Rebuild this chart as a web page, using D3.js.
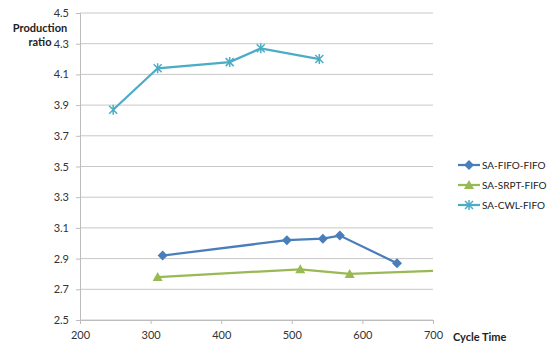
<!DOCTYPE html>
<html>
<head>
<meta charset="utf-8">
<script src="https://cdn.jsdelivr.net/npm/d3@7"></script>
<style>
  body { margin: 0; background: #fff; }
  text { font-family: Lato, "Open Sans", sans-serif; }
</style>
</head>
<body>
<svg id="chart" width="550" height="350"></svg>
<script>
// series names and values
var seriesNames = ["SA-FIFO-FIFO", "SA-SRPT-FIFO", "SA-CWL-FIFO"];
var fifoX = [317, 493, 544, 568, 649];
var fifoY = [2.92, 3.02, 3.03, 3.05, 2.87];
var srptX = [310, 512, 582, 760];
var srptY = [2.78, 2.83, 2.80, 2.83];
var cwlX = [247, 310, 412, 456, 539];
var cwlY = [3.87, 4.14, 4.18, 4.27, 4.20];
var xTicks = [200, 300, 400, 500, 600, 700];
var yTicks = [2.5, 2.7, 2.9, 3.1, 3.3, 3.5, 3.7, 3.9, 4.1, 4.3, 4.5];

var colors = ["#4a7ebb", "#98b954", "#4bacc6"];
var shapes = ["diamond", "triangle", "star"];

var svg = d3.select("#chart");

var x = d3.scaleLinear().domain([200, 700]).range([80, 433]);
var y = d3.scaleLinear().domain([2.5, 4.5]).range([320, 13]);

// grid lines
svg.append("g")
  .selectAll("line")
  .data(yTicks)
  .enter()
  .append("line")
  .attr("x1", 80)
  .attr("x2", 433)
  .attr("y1", d => y(d))
  .attr("y2", d => y(d))
  .attr("stroke", "#c8c8c8")
  .attr("stroke-width", 1);

// y axis
var yAxis = svg.append("g")
  .attr("transform", "translate(80,0)")
  .call(d3.axisLeft(y).tickValues(yTicks).tickFormat(d3.format(".1f")).tickSize(4));
yAxis.select(".domain").attr("stroke", "#bdbdbd");
yAxis.selectAll(".tick line").attr("stroke", "#bdbdbd");
yAxis.selectAll("text").attr("fill", "#333").style("font-size", "11px").attr("dx", "-4");

// x axis
var xAxis = svg.append("g")
  .attr("transform", "translate(0,320)")
  .call(d3.axisBottom(x).tickValues(xTicks).tickSize(4));
xAxis.select(".domain").attr("stroke", "#bdbdbd");
xAxis.selectAll(".tick line").attr("stroke", "#bdbdbd");
xAxis.selectAll("text").attr("fill", "#333").style("font-size", "11px").attr("dy", "1.1em");

// axis titles
svg.append("text").attr("x", 40).attr("y", 32).attr("text-anchor", "middle")
  .style("font-size", "11px").style("font-weight", "bold").attr("fill", "#222").text("Production");
svg.append("text").attr("x", 40).attr("y", 46).attr("text-anchor", "middle")
  .style("font-size", "11px").style("font-weight", "bold").attr("fill", "#222").text("ratio");
svg.append("text").attr("x", 453).attr("y", 341)
  .style("font-size", "11px").style("font-weight", "bold").attr("fill", "#222").text("Cycle Time");

svg.append("clipPath").attr("id", "plot-clip")
  .append("rect").attr("x", 70).attr("y", 0).attr("width", 363).attr("height", 335);

var series = [
  fifoX.map((v, i) => ({ x: v, y: fifoY[i] })),
  srptX.map((v, i) => ({ x: v, y: srptY[i] })),
  cwlX.map((v, i) => ({ x: v, y: cwlY[i] }))
];

var line = d3.line().x(d => x(d.x)).y(d => y(d.y));

function drawMarker(g, shape, color, cx, cy) {
  if (shape === "diamond") {
    g.append("path")
      .attr("d", `M${cx},${cy - 5}L${cx + 5},${cy}L${cx},${cy + 5}L${cx - 5},${cy}Z`)
      .attr("fill", color);
  } else if (shape === "triangle") {
    g.append("path")
      .attr("d", `M${cx},${cy - 5}L${cx + 5},${cy + 4}L${cx - 5},${cy + 4}Z`)
      .attr("fill", color);
  } else {
    g.append("path")
      .attr("d", `M${cx - 4},${cy - 4}L${cx + 4},${cy + 4}M${cx - 4},${cy + 4}L${cx + 4},${cy - 4}M${cx},${cy - 5}L${cx},${cy + 5}`)
      .attr("stroke", color).attr("stroke-width", 1.5).attr("fill", "none");
  }
}

var plot = svg.append("g").attr("clip-path", "url(#plot-clip)");

series.forEach((pts, i) => {
  plot.append("path")
    .datum(pts)
    .attr("d", line)
    .attr("fill", "none")
    .attr("stroke", colors[i])
    .attr("stroke-width", 2.25);
  pts.forEach(p => drawMarker(plot, shapes[i], colors[i], x(p.x), y(p.y)));
});

// legend
var legend = svg.append("g");
seriesNames.forEach((name, i) => {
  var ly = 165 + i * 20;
  legend.append("line")
    .attr("x1", 458).attr("x2", 480).attr("y1", ly).attr("y2", ly)
    .attr("stroke", colors[i]).attr("stroke-width", 2.25);
  drawMarker(legend, shapes[i], colors[i], 469, ly);
  legend.append("text")
    .attr("x", 482).attr("y", ly + 4)
    .style("font-size", "10px").attr("fill", "#222").text(name);
});
</script>
</body>
</html>
